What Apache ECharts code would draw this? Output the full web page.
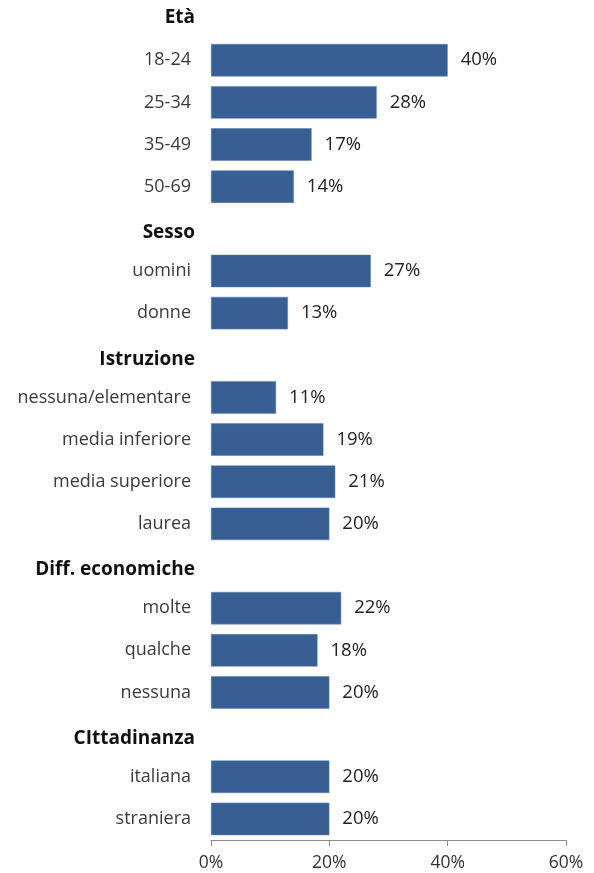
<!DOCTYPE html>
<html>
<head>
<meta charset="utf-8">
<script src="https://cdn.jsdelivr.net/npm/echarts@6/dist/echarts.min.js"></script>
<style>
  html, body { margin: 0; padding: 0; background: #fff; overflow: hidden; }
  #chart { width: 594px; height: 876px; position: relative; top: -3px; }
</style>
</head>
<body>
<div id="chart"></div>
<script>
// Group headings (bold, no bar) and the rows under each
const headers = ['Età', 'Sesso', 'Istruzione', 'Diff. economiche', 'CIttadinanza'];
const categories = [
  'Età', '18-24', '25-34', '35-49', '50-69',
  'Sesso', 'uomini', 'donne',
  'Istruzione', 'nessuna/elementare', 'media inferiore', 'media superiore', 'laurea',
  'Diff. economiche', 'molte', 'qualche', 'nessuna',
  'CIttadinanza', 'italiana', 'straniera'
];
// Percentages; null for heading rows
const values = [
  null, 40, 28, 17, 14,
  null, 27, 13,
  null, 11, 19, 21, 20,
  null, 22, 18, 20,
  null, 20, 20
];
const xTicks = [0, 20, 40, 60];

const chart = echarts.init(document.getElementById('chart'), null, { renderer: 'canvas' });
const font = '"Open Sans", "Liberation Sans", sans-serif';

function yLabel(v, i) {
  if (i === 0) return '{h0|' + v + '}';
  if (headers.includes(v)) return '{h|' + v + '}';
  return '{c|' + v + '}';
}

chart.setOption({
  animation: false,
  grid: { left: 211, right: 28, top: 0, bottom: 33, containLabel: false },
  xAxis: {
    type: 'value',
    min: xTicks[0],
    max: xTicks[xTicks.length - 1],
    interval: 20,
    splitLine: { show: false },
    axisLine: { show: true, lineStyle: { color: '#8c8c8c', width: 1 } },
    axisTick: { show: true, length: 6, lineStyle: { color: '#8c8c8c' } },
    axisLabel: {
      formatter: v => v + '%',
      fontFamily: font, fontSize: 17.5, color: '#333', margin: 14
    }
  },
  yAxis: {
    type: 'category',
    inverse: true,
    data: categories,
    axisLine: { show: false },
    axisTick: { show: false },
    axisLabel: {
      margin: 16,
      fontFamily: font,
      formatter: yLabel,
      rich: {
        h0: { fontFamily: font, fontSize: 19, fontWeight: 'bold', color: '#111' },
        h: { fontFamily: font, fontSize: 19, fontWeight: 'bold', color: '#111', padding: [8, 0, 0, 0] },
        c: { fontFamily: font, fontSize: 18, color: '#3a3a3a', padding: [0, 4, 0, 0] }
      }
    }
  },
  series: [{
    type: 'bar',
    data: values,
    barWidth: '77%',
    itemStyle: { color: '#375F93', borderColor: '#5a7fae', borderWidth: 0.5 },
    label: {
      show: true,
      position: 'right',
      distance: 13,
      formatter: p => p.value == null ? '' : p.value + '%',
      fontFamily: font, fontSize: 18.5, color: '#222'
    }
  }]
});
</script>
</body>
</html>
